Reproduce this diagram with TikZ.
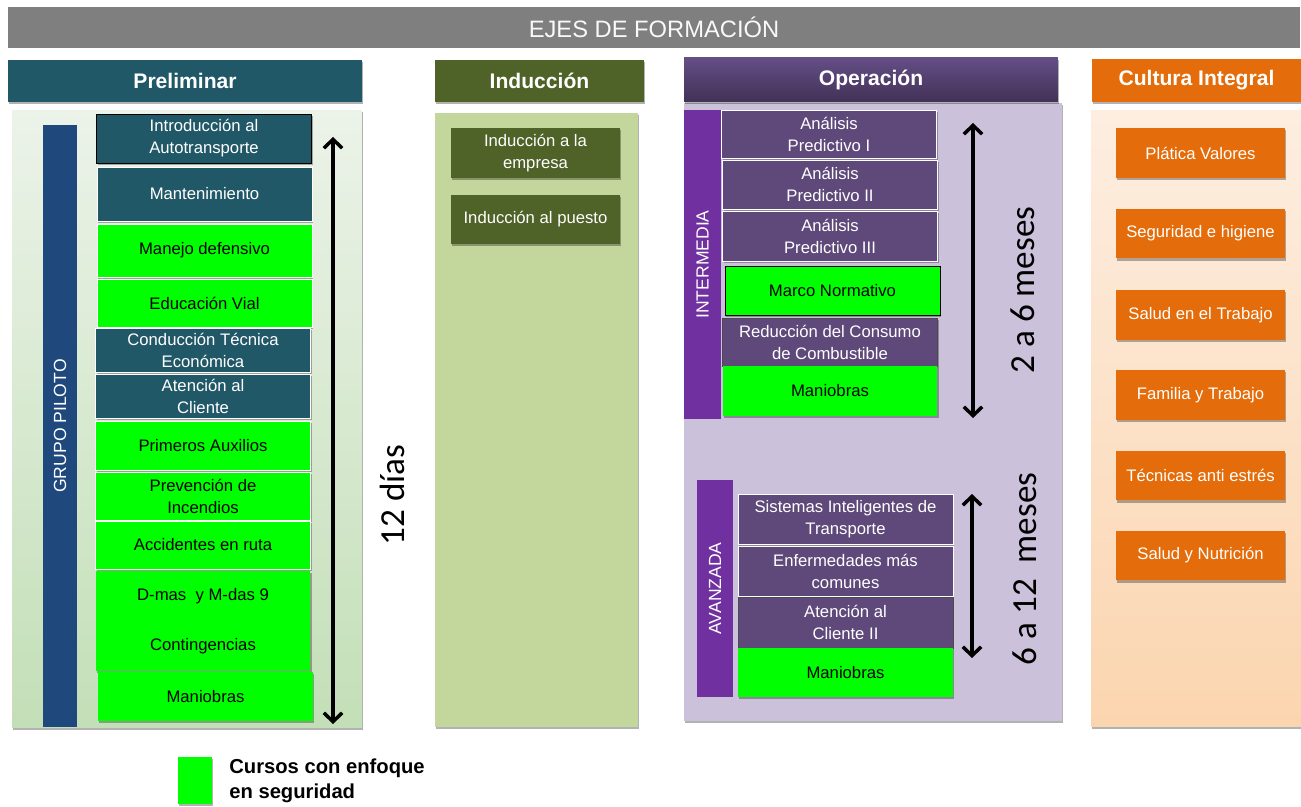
\documentclass[tikz,border=0pt]{standalone}
\usepackage{fontspec}
\setmainfont{Liberation Sans}
\newfontfamily\calfont{Carlito}
\usetikzlibrary{arrows.meta,shadows}

\definecolor{titlegray}{HTML}{7F7F7F}
\definecolor{prelimteal}{HTML}{215868}
\definecolor{pilotblue}{HTML}{1F497D}
\definecolor{induccgreen}{HTML}{4F6228}
\definecolor{induccbody}{HTML}{C3D69B}
\definecolor{operpurple}{HTML}{5F497A}
\definecolor{operbody}{HTML}{CCC1DA}
\definecolor{levelviolet}{HTML}{7030A0}
\definecolor{culturaorange}{HTML}{E46C0A}
\definecolor{safegreen}{HTML}{00FF00}

\begin{document}
\begin{tikzpicture}[x=0.02cm,y=-0.02cm]
\tikzset{shadowed/.style = {drop shadow={shadow xshift=0.6pt,shadow yshift=-1.2pt,opacity=0.3,fill=black}}}
\tikzset{head/.style = {shape=rectangle,shadowed,text=white,inner sep=0pt,
font=\fontsize{12}{14}\selectfont\bfseries}}
\tikzset{panel/.style = {shape=rectangle,shadowed,inner sep=0pt}}
\tikzset{bar/.style = {shape=rectangle,rotate=90,text=white,inner sep=0pt,
font=\fontsize{10}{12}\selectfont}}
\tikzset{course/.style = {shape=rectangle,fill=prelimteal,draw=white,text=white,
minimum width=4.3cm,align=center,inner sep=1pt,shadowed,
font=\fontsize{9.5}{12.5}\selectfont}}
\tikzset{safe/.style = {course,fill=safegreen,text=black}}
\tikzset{oper/.style = {course,fill=operpurple}}
\tikzset{talk/.style = {course,fill=culturaorange,draw=none,minimum width=3.38cm,minimum height=1cm}}
\tikzset{lbl/.style = {rotate=90,inner sep=0pt,font=\calfont\fontsize{20}{24}\selectfont}}
\tikzset{span/.style = {{Straight Barb[length=5pt,width=10.5pt,line width=2pt]}-{Straight Barb[length=5pt,width=10.5pt,line width=2pt]},line width=1.8pt}}
\useasboundingbox (0,0) rectangle (1301,807);

% title
\node[shape=rectangle,fill=titlegray,text=white!95!gray,minimum width=25.84cm,minimum height=0.82cm,
font=\fontsize{13.5}{16}\selectfont] (t) at (654,27.5) {EJES DE FORMACIÓN};

% panels
\node[panel,top color={rgb,255:red,236;green,243;blue,233},bottom color={rgb,255:red,195;green,223;blue,183},
minimum width=7cm,minimum height=12.36cm] (pbody) at (187,419) {};
\node[panel,fill=induccbody,minimum width=4.06cm,minimum height=12.28cm] (ibody) at (536.5,420) {};
\node[panel,fill=operbody,minimum width=7.56cm,minimum height=12.36cm] (obody) at (873,412) {};
\node[panel,top color={rgb,255:red,253;green,238;blue,225},bottom color={rgb,255:red,251;green,213;blue,175},
minimum width=4.2cm,minimum height=12.34cm] (cbody) at (1196,418.5) {};

% headers
\node[head,fill=prelimteal,minimum width=7.08cm,minimum height=0.84cm] (ph) at (185,81) {Preliminar};
\node[head,fill=induccgreen,minimum width=4.18cm,minimum height=0.84cm] (ih) at (539.5,81) {Inducción};
\node[head,top color={rgb,255:red,100;green,78;blue,134},bottom color={rgb,255:red,66;green,49;blue,86},
minimum width=7.48cm,minimum height=0.88cm] (oh) at (871,80) {Operación};
\node[head,fill=culturaorange,minimum width=4.18cm,minimum height=0.86cm] (ch) at (1196.5,80.5) {Cultura Integral};

% level bars
\node[bar,fill=pilotblue,minimum width=12.04cm,minimum height=0.68cm] (gp) at (60,426) {GRUPO PILOTO};
\node[bar,fill=levelviolet,minimum width=6.18cm,minimum height=0.74cm] (im) at (702.5,264.5) {INTERMEDIA};
\node[bar,fill=levelviolet,minimum width=4.34cm,minimum height=0.72cm] (av) at (715,588.5) {AVANZADA};

% preliminar
\node[course,draw=black,minimum height=0.98cm] (a1) at (204,138.5) {Introducción al\\Autotransporte};
\node[course,minimum height=1.08cm] (a2) at (204.5,194) {Mantenimiento};
\node[safe,minimum height=1.06cm] (a3) at (204.5,250.5) {Manejo defensivo};
\node[safe,minimum height=0.96cm] (a4) at (204.5,303) {Educación Vial};
\node[course,minimum height=0.88cm] (a5) at (203,350) {Conducción Técnica\\Económica};
\node[course,minimum height=0.88cm] (a6) at (203,396) {Atención al\\Cliente};
\node[safe,minimum height=0.98cm] (a7) at (203,445.5) {Primeros Auxilios};
\node[safe,minimum height=0.96cm] (a8) at (203,496) {Prevención de\\Incendios};
\node[safe,minimum height=0.96cm] (a9) at (203,545) {Accidentes en ruta};
\node[safe,draw=none,minimum height=1cm] (a10) at (203,596) {D-mas\ \ y M-das 9};
\node[safe,draw=none,minimum height=1cm] (a11) at (203,646) {Contingencias};
\node[safe,draw=none,minimum height=0.98cm] (a12) at (205.5,696.5) {Maniobras};

% induccion
\node[course,fill=induccgreen,draw=none,minimum width=3.38cm,minimum height=1cm] (b1) at (535.5,153) {Inducción a la\\empresa};
\node[course,fill=induccgreen,draw=none,minimum width=3.38cm,minimum height=0.98cm] (b2) at (535.5,219.5) {Inducción al puesto};

% operacion - intermedia
\node[oper,minimum height=0.96cm] (c1) at (829,134) {Análisis\\Predictivo I};
\node[oper,minimum height=0.98cm] (c2) at (830,184.5) {Análisis\\Predictivo II};
\node[oper,minimum height=1cm] (c3) at (830,236) {Análisis\\Predictivo III};
\node[safe,draw=black,minimum height=0.98cm] (c4) at (832.5,290.5) {Marco Normativo};
\node[oper,draw=black!70,minimum height=0.96cm] (c5) at (830,342) {Reducción del Consumo\\de Combustible};
\node[safe,draw=none,minimum height=1cm] (c6) at (830,391) {Maniobras};

% operacion - avanzada
\node[oper,minimum height=1cm] (d1) at (845.5,519) {Sistemas Inteligentes de\\Transporte};
\node[oper,minimum height=1cm] (d2) at (845.5,571) {Enfermedades más\\comunes};
\node[oper,draw=black!70,minimum height=1.02cm] (d3) at (845.5,622.5) {Atención al\\Cliente II};
\node[safe,draw=none,minimum height=0.98cm] (d4) at (845.5,672.5) {Maniobras};

% cultura integral
\node[talk] (e1) at (1200.5,153) {Plática Valores};
\node[talk] (e2) at (1200.5,233.5) {Seguridad e higiene};
\node[talk] (e3) at (1200.5,315) {Salud en el Trabajo};
\node[talk] (e4) at (1200.5,395) {Familia y Trabajo};
\node[talk] (e5) at (1200.5,475.5) {Técnicas anti estrés};
\node[talk] (e6) at (1200.5,555.5) {Salud y Nutrición};

% durations
\coordinate (p1) at (333,137);
\coordinate (p2) at (333,724);
\coordinate (q1) at (973,123);
\coordinate (q2) at (973,418);
\coordinate (r1) at (972,494);
\coordinate (r2) at (972,658);
\node[lbl] (l1) at (392,495) {12 días};
\node[lbl] (l2) at (1023,290) {2 a 6 meses};
\node[lbl] (l3) at (1025,569) {6 a 12\ \ meses};

% legend
\node[safe,draw=none,minimum width=0.68cm,minimum height=0.94cm] (key) at (195,780.5) {};
\node[anchor=west,inner sep=0pt,align=left,font=\fontsize{11.5}{14}\selectfont\bfseries] (keytext) at (229,781) {Cursos con enfoque\\en seguridad};

%edges
\draw[span] (p1) -- (p2);
\draw[span] (q1) -- (q2);
\draw[span] (r1) -- (r2);
\end{tikzpicture}
\end{document}
